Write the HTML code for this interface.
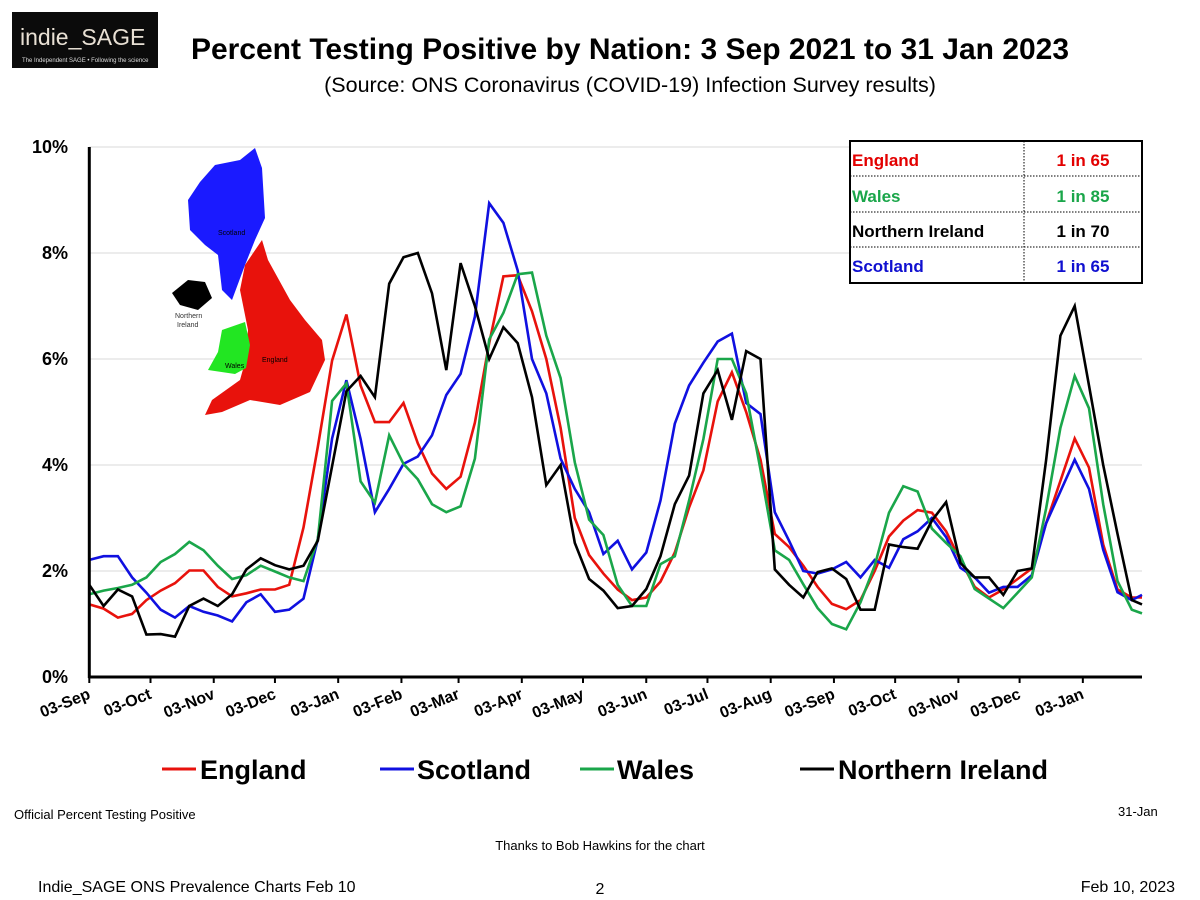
<!DOCTYPE html>
<html><head><meta charset="utf-8"><style>
body{margin:0;background:#fff;width:1200px;height:900px;overflow:hidden;font-family:"Liberation Sans",sans-serif}
svg{position:absolute;left:0;top:0}
</style></head><body>
<svg id="c" width="1200" height="900" viewBox="0 0 1200 900">
<g>
<rect x="12" y="12" width="146" height="56" fill="#0b0b0b"/>
<text x="20" y="45" font-size="23" fill="#e8e0d4" font-family="Liberation Sans">indie_SAGE</text>
<text x="22" y="62" font-size="6" fill="#ddd">The Independent SAGE • Following the science</text>
</g>
<text x="630" y="59" text-anchor="middle" font-size="30" font-weight="bold">Percent Testing Positive by Nation: 3 Sep 2021 to 31 Jan 2023</text>
<text x="630" y="92" text-anchor="middle" font-size="21.5">(Source: ONS Coronavirus (COVID-19) Infection Survey results)</text>
<g id="grid"></g>
<g>
<path d="M188,200 L200,182 L215,165 L240,160 L255,148 L262,168 L265,218 L255,240 L245,265 L232,300 L222,290 L218,255 L205,245 L190,230 Z" fill="#1a1aff"/>
<path d="M245,265 L262,240 L268,260 L290,300 L305,320 L322,340 L325,360 L310,392 L280,405 L250,400 L222,412 L205,415 L212,400 L240,380 L245,362 L248,330 L240,290 Z" fill="#e8120c"/>
<path d="M222,330 L245,322 L250,345 L246,368 L235,374 L208,370 L218,352 Z" fill="#22e622"/>
<path d="M172,293 L188,280 L205,282 L212,298 L198,310 L180,305 Z" fill="#000"/>
<text x="218" y="235" font-size="7">Scotland</text>
<text x="175" y="318" font-size="7" fill="#333">Northern</text>
<text x="177" y="327" font-size="7" fill="#333">Ireland</text>
<text x="225" y="368" font-size="7">Wales</text>
<text x="262" y="362" font-size="7">England</text>
</g>
<g id="series"></g>
<g id="axes"></g>
<g font-size="17" font-weight="bold">
<rect x="850" y="141" width="292" height="142" fill="#fff" stroke="#000" stroke-width="2"/>
<line x1="850" y1="176" x2="1142" y2="176" stroke="#000" stroke-dasharray="1.5,1.5"/>
<line x1="850" y1="212" x2="1142" y2="212" stroke="#000" stroke-dasharray="1.5,1.5"/>
<line x1="850" y1="247" x2="1142" y2="247" stroke="#000" stroke-dasharray="1.5,1.5"/>
<line x1="1024" y1="141" x2="1024" y2="283" stroke="#000" stroke-dasharray="1.5,1.5"/>
<text x="852" y="166" fill="#e30000">England</text><text x="1083" y="166" fill="#e30000" text-anchor="middle">1 in 65</text>
<text x="852" y="202" fill="#1aa64a">Wales</text><text x="1083" y="202" fill="#1aa64a" text-anchor="middle">1 in 85</text>
<text x="852" y="237" fill="#000">Northern Ireland</text><text x="1083" y="237" fill="#000" text-anchor="middle">1 in 70</text>
<text x="852" y="272" fill="#1010d0">Scotland</text><text x="1083" y="272" fill="#1010d0" text-anchor="middle">1 in 65</text>
</g>
<g font-size="27" font-weight="bold">
<line x1="162" y1="769" x2="196" y2="769" stroke="#e8120c" stroke-width="3"/><text x="200" y="779">England</text>
<line x1="380" y1="769" x2="414" y2="769" stroke="#1010e0" stroke-width="3"/><text x="417" y="779">Scotland</text>
<line x1="580" y1="769" x2="614" y2="769" stroke="#1aa64a" stroke-width="3"/><text x="617" y="779">Wales</text>
<line x1="800" y1="769" x2="834" y2="769" stroke="#000" stroke-width="3"/><text x="838" y="779">Northern Ireland</text>
</g>
<text x="14" y="819" font-size="13">Official Percent Testing Positive</text>
<text x="1118" y="816" font-size="13">31-Jan</text>
<text x="600" y="850" font-size="13" text-anchor="middle">Thanks to Bob Hawkins for the chart</text>
<text x="38" y="892" font-size="16">Indie_SAGE ONS Prevalence Charts Feb 10</text>
<text x="600" y="894" font-size="16" text-anchor="middle">2</text>
<text x="1175" y="892" font-size="16" text-anchor="end">Feb 10, 2023</text>
</svg>
<script>
const yTicks=[0,2,4,6,8,10];
const yTickLabels=["0%","2%","4%","6%","8%","10%"];
const monthDays=[0,30,61,91,122,153,181,212,242,273,303,334,365,395,426,456,487];
const monthLabels=["03-Sep","03-Oct","03-Nov","03-Dec","03-Jan","03-Feb","03-Mar","03-Apr","03-May","03-Jun","03-Jul","03-Aug","03-Sep","03-Oct","03-Nov","03-Dec","03-Jan"];
const england=[1.37,1.29,1.12,1.19,1.45,1.63,1.77,2.01,2.01,1.70,1.52,1.58,1.65,1.65,1.74,2.82,4.34,5.97,6.84,5.5,4.81,4.81,5.17,4.41,3.84,3.55,3.78,4.8,6.3,7.56,7.58,6.9,6.0,4.7,3.0,2.3,1.95,1.65,1.45,1.5,1.8,2.35,3.2,3.9,5.2,5.75,5.0,4.1,2.7,2.45,2.1,1.7,1.38,1.28,1.45,2.0,2.65,2.95,3.15,3.1,2.75,2.2,1.7,1.5,1.65,1.85,2.05,2.9,3.7,4.5,3.95,2.5,1.65,1.5,1.5];
const scotland=[2.21,2.28,2.28,1.88,1.59,1.27,1.12,1.34,1.23,1.16,1.05,1.41,1.56,1.23,1.27,1.48,2.6,4.5,5.6,4.49,3.11,3.55,4.02,4.16,4.56,5.32,5.72,6.8,8.94,8.57,7.67,6.0,5.35,4.12,3.55,3.11,2.32,2.57,2.03,2.35,3.33,4.78,5.5,5.93,6.33,6.48,5.17,4.96,3.11,2.57,2.0,1.95,2.03,2.17,1.88,2.21,2.06,2.6,2.75,3.0,2.64,2.06,1.88,1.59,1.7,1.7,1.92,2.9,3.5,4.1,3.55,2.4,1.6,1.45,1.55];
const wales=[1.56,1.63,1.68,1.74,1.88,2.17,2.32,2.55,2.39,2.1,1.85,1.92,2.1,1.99,1.88,1.81,2.6,5.21,5.54,3.69,3.29,4.56,4.02,3.73,3.26,3.11,3.22,4.12,6.37,6.87,7.6,7.63,6.44,5.64,4.05,2.97,2.68,1.74,1.34,1.34,2.13,2.28,3.33,4.49,6.0,6.0,5.35,3.91,2.39,2.21,1.75,1.3,1.0,0.9,1.41,2.1,3.1,3.6,3.5,2.8,2.53,2.28,1.66,1.48,1.3,1.59,1.88,3.18,4.7,5.68,5.07,3.26,1.81,1.27,1.2];
const nireland=[1.74,1.34,1.65,1.52,0.8,0.81,0.76,1.34,1.48,1.34,1.56,2.03,2.24,2.11,2.03,2.1,2.57,3.98,5.39,5.68,5.28,7.42,7.92,8.0,7.24,5.79,7.81,7.0,6.0,6.6,6.3,5.28,3.62,4.0,2.53,1.85,1.63,1.3,1.34,1.66,2.28,3.26,3.8,5.35,5.79,4.85,6.15,6.0,2.03,1.74,1.5,1.98,2.05,1.85,1.27,1.27,2.5,2.45,2.42,2.95,3.3,2.15,1.88,1.88,1.55,2.0,2.05,4.09,6.44,7.0,5.5,4.0,2.7,1.45,1.37];
const NS='http://www.w3.org/2000/svg';
const X0=89.3,X1=1142,D1=516,Y0=677,Y1=147;
function xs(d){return X0+d*(X1-X0)/D1;}
function ys(v){return Y0-v*(Y0-Y1)/10;}
function dayOf(i,n){return i<n-1?i*7:D1;}
function mk(t,a,p){const e=document.createElementNS(NS,t);for(const k in a)e.setAttribute(k,a[k]);p.appendChild(e);return e;}
const grid=document.getElementById('grid'),axes=document.getElementById('axes'),ser=document.getElementById('series');
yTicks.forEach((v,i)=>{
  if(v>0){const g=mk('line',{x1:X0,x2:X1,y1:ys(v),y2:ys(v),stroke:'#d9d9d9','stroke-width':1},grid);
  
  }
  const t=mk('text',{x:68,y:ys(v)+6,'text-anchor':'end','font-size':18,'font-weight':'bold'},axes);
  t.textContent=yTickLabels[i];
  
  
});
const ya=mk('line',{x1:X0,x2:X0,y1:Y1,y2:Y0+1,stroke:'#000','stroke-width':3},axes);


const xa=mk('line',{x1:X0-1,x2:X1,y1:Y0,y2:Y0,stroke:'#000','stroke-width':3},axes);


monthDays.forEach((d,i)=>{
  const x=xs(d);
  const tk=mk('line',{x1:x,x2:x,y1:Y0,y2:Y0+6,stroke:'#000','stroke-width':2},axes);
  
  
  const t=mk('text',{x:x+2,y:Y0+21,'text-anchor':'end','font-size':16,'font-weight':'bold',transform:'rotate(-22 '+(x+2)+' '+(Y0+21)+')'},axes);
  t.textContent=monthLabels[i];
  
  
});
[[england,'#e8120c','england-line'],[scotland,'#1010e0','scotland-line'],[wales,'#1aa64a','wales-line'],[nireland,'#000','northern-ireland-line']].forEach(s=>{
  const arr=s[0];
  const pts=arr.map((v,i)=>xs(dayOf(i,arr.length)).toFixed(1)+','+ys(v).toFixed(1)).join(' ');
  const p=mk('polyline',{points:pts,fill:'none',stroke:s[1],'stroke-width':2.6,'stroke-linejoin':'miter'},ser);
  
  
});
</script>
</body></html>
